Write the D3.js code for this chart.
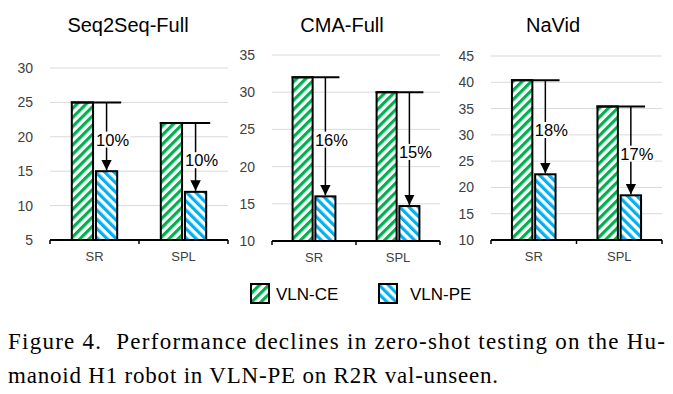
<!DOCTYPE html>
<html>
<head>
<meta charset="utf-8">
<script src="https://cdn.jsdelivr.net/npm/d3@7"></script>
<style>
  body { margin: 0; background: #fff; }
  svg { font-family: "Liberation Sans", Arial, sans-serif; }
</style>
</head>
<body>
<div id="chart"></div>
<script>
  // chart values
  var panelTitles = ["Seq2Seq-Full", "CMA-Full", "NaVid"];
  var categories = ["SR", "SPL"];
  var seriesNames = ["VLN-CE", "VLN-PE"];
  var vlnCE = [[25, 22], [32, 30], [40.4, 35.4]];
  var vlnPE = [[15, 12], [16, 14.7], [22.5, 18.5]];
  var dropLabels = [["10%", "10%"], ["16%", "15%"], ["18%", "17%"]];
  var yTicks = [
    [5, 10, 15, 20, 25, 30],
    [10, 15, 20, 25, 30, 35],
    [10, 15, 20, 25, 30, 35, 40, 45]
  ];
  var captionLines = [
    "Figure 4.  Performance declines in zero-shot testing on the Hu-",
    "manoid H1 robot in VLN-PE on R2R val-unseen."
  ];

  // layout of each panel (plot area)
  var layout = [
    {left: 50, right: 228, top: 68, bottom: 240, titleX: 128},
    {left: 272, right: 440, top: 55, bottom: 241, titleX: 342},
    {left: 491, right: 662, top: 56, bottom: 240, titleX: 553}
  ];

  var colors = {"VLN-CE": "#00b050", "VLN-PE": "#00b0f0"};
  var serif = "\"Liberation Serif\", \"Times New Roman\", serif";

  var svg = d3.select("#chart").append("svg")
    .attr("width", 673)
    .attr("height", 394);

  // hatch patterns
  var defs = svg.append("defs");
  seriesNames.forEach(function(name, i) {
    var p = defs.append("pattern")
      .attr("id", "hatch-" + i)
      .attr("patternUnits", "userSpaceOnUse")
      .attr("width", 6.5)
      .attr("height", 6.5)
      .attr("patternTransform", "rotate(" + (i === 0 ? 45 : -45) + ")");
    p.append("rect").attr("width", 6.5).attr("height", 6.5).attr("fill", "#fff");
    p.append("rect").attr("width", 3.2).attr("height", 6.5).attr("fill", colors[name]);
  });

  defs.append("marker")
    .attr("id", "arrow")
    .attr("viewBox", "0 0 10 10")
    .attr("refX", 10).attr("refY", 5)
    .attr("markerWidth", 7).attr("markerHeight", 7)
    .attr("markerUnits", "strokeWidth")
    .attr("orient", "auto")
    .append("path")
    .attr("d", "M0,0L10,5L0,10Z")
    .attr("fill", "#000");

  panelTitles.forEach(function(title, p) {
    var L = layout[p];
    var g = svg.append("g").attr("class", "panel-" + p);

    var x = d3.scaleBand().domain(categories).range([L.left, L.right]);
    var y = d3.scaleLinear()
      .domain([yTicks[p][0], yTicks[p][yTicks[p].length - 1]])
      .range([L.bottom, L.top]);

    var bw = x.bandwidth();
    var x1 = d3.scaleBand().domain(seriesNames)
      .range([bw * 0.245, bw * 0.755])
      .paddingInner(0.12);

    // title
    g.append("text")
      .attr("x", L.titleX)
      .attr("y", 32)
      .attr("text-anchor", "middle")
      .attr("font-size", 20)
      .attr("fill", "#000")
      .text(title);

    // gridlines
    g.selectAll("line.grid")
      .data(yTicks[p].slice(1))
      .enter().append("line")
      .attr("class", "grid")
      .attr("x1", L.left).attr("x2", L.right)
      .attr("y1", function(d) { return y(d); })
      .attr("y2", function(d) { return y(d); })
      .attr("stroke", "#d9d9d9")
      .attr("stroke-width", 1);

    // y axis labels
    var yAxis = d3.axisLeft(y).tickValues(yTicks[p]).tickSize(0).tickPadding(17);
    var ya = g.append("g")
      .attr("transform", "translate(" + L.left + ",0)")
      .call(yAxis);
    ya.select(".domain").remove();
    ya.selectAll("text")
      .attr("font-size", 14)
      .attr("font-family", null)
      .attr("fill", "#404040");

    // bars
    var groups = g.selectAll("g.cat")
      .data(categories)
      .enter().append("g")
      .attr("class", "cat")
      .attr("transform", function(d) { return "translate(" + x(d) + ",0)"; });

    groups.each(function(cat, c) {
      var cg = d3.select(this);
      var vals = [vlnCE[p][c], vlnPE[p][c]];
      cg.selectAll("rect.bar")
        .data(vals)
        .enter().append("rect")
        .attr("class", "bar")
        .attr("x", function(d, i) { return x1(seriesNames[i]); })
        .attr("width", x1.bandwidth())
        .attr("y", function(d) { return y(d); })
        .attr("height", function(d) { return y.range()[0] - y(d); })
        .attr("fill", function(d, i) { return "url(#hatch-" + i + ")"; })
        .attr("stroke", "#000")
        .attr("stroke-width", 2);

      // drop annotation
      var ax = x1("VLN-PE") + x1.bandwidth() / 2;
      cg.append("line")
        .attr("x1", x1("VLN-CE") - 1)
        .attr("x2", x1("VLN-PE") + x1.bandwidth() + 4)
        .attr("y1", y(vals[0])).attr("y2", y(vals[0]))
        .attr("stroke", "#000").attr("stroke-width", 2);
      cg.append("line")
        .attr("x1", ax).attr("x2", ax)
        .attr("y1", y(vals[0]))
        .attr("y2", y(vals[1]) - 1)
        .attr("stroke", "#000").attr("stroke-width", 1.5)
        .attr("marker-end", "url(#arrow)");

      var ly = (y(vals[0]) + y(vals[1])) / 2 + 3;
      var lbl = cg.append("text")
        .attr("x", ax + 6)
        .attr("y", ly)
        .attr("dy", "0.35em")
        .attr("text-anchor", "middle")
        .attr("font-size", 16.5)
        .attr("fill", "#000")
        .text(dropLabels[p][c]);
      var bb = lbl.node().getBBox();
      cg.insert("rect", "text")
        .attr("x", bb.x - 1).attr("y", bb.y + 1)
        .attr("width", bb.width + 2).attr("height", bb.height - 2)
        .attr("fill", "#fff");
    });

    // category axis
    var xAxis = d3.axisBottom(x).tickSize(0).tickPadding(12);
    var xa = g.append("g")
      .attr("transform", "translate(0," + L.bottom + ")")
      .call(xAxis);
    xa.select(".domain").remove();
    xa.selectAll("text")
      .attr("font-size", 13)
      .attr("font-family", null)
      .attr("fill", "#404040");
    g.append("line")
      .attr("x1", L.left).attr("x2", L.right)
      .attr("y1", L.bottom).attr("y2", L.bottom)
      .attr("stroke", "#000").attr("stroke-width", 2);
    g.selectAll("line.sep")
      .data([L.left, x("SPL"), L.right])
      .enter().append("line")
      .attr("class", "sep")
      .attr("x1", function(d) { return d; })
      .attr("x2", function(d) { return d; })
      .attr("y1", L.bottom).attr("y2", L.bottom + 4)
      .attr("stroke", "#000").attr("stroke-width", 1.5);
  });

  // legend
  var legend = svg.append("g").attr("class", "legend");
  var legendX = [251, 379];
  seriesNames.forEach(function(name, i) {
    legend.append("rect")
      .attr("x", legendX[i]).attr("y", 284)
      .attr("width", 18).attr("height", 19)
      .attr("fill", "url(#hatch-" + i + ")")
      .attr("stroke", "#000").attr("stroke-width", 2);
    legend.append("text")
      .attr("x", legendX[i] + (i === 0 ? 25 : 31))
      .attr("y", 294)
      .attr("dy", "0.35em")
      .attr("font-size", 17)
      .attr("fill", "#000")
      .text(name);
  });

  // caption, both lines stretched to the widths seen in the figure
  var captionWidths = [657, 490];
  var captionY = [349, 383];
  captionLines.forEach(function(line, i) {
    svg.append("text")
      .attr("x", 8).attr("y", captionY[i])
      .style("font-family", serif)
      .attr("font-size", 23)
      .attr("textLength", captionWidths[i])
      .attr("lengthAdjust", "spacing")
      .style("white-space", "pre")
      .text(line);
  });
</script>
</body>
</html>
